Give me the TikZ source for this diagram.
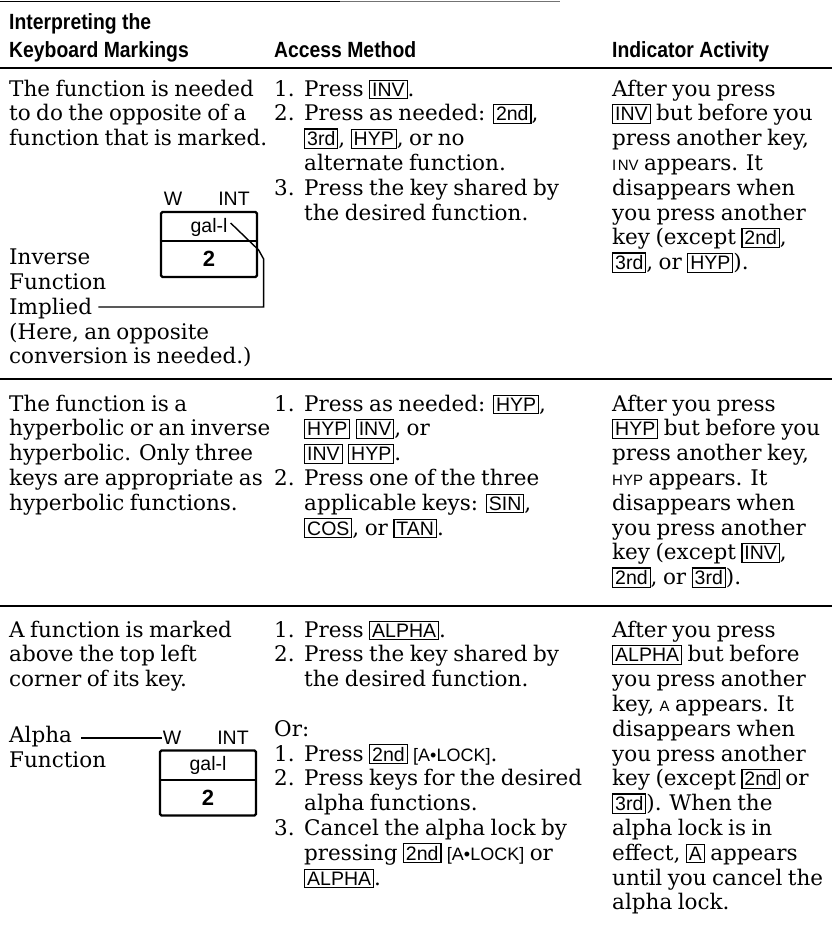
\documentclass[tikz,border=0pt]{standalone}
\usepackage{fontspec}
\setmainfont{DejaVu Serif}[WordSpace=0.8]
\setsansfont{Liberation Sans}
\newfontfamily\hdfont{Liberation Sans}[FakeStretch=0.88]
\newcommand{\bodyfont}{\fontsize{21.5}{24.8}\selectfont}
\newcommand{\kfont}{\sffamily\fontsize{19.5}{19.5}\selectfont}
\newcommand{\kb}[1]{\smash{{\setlength{\fboxsep}{1.9pt}\setlength{\fboxrule}{1.1pt}\fbox{\kfont\vphantom{I}#1}}}}
\newcommand{\ind}[1]{{\sffamily\fontsize{15}{15}\selectfont #1}}
\newcommand{\lck}{{\sffamily\fontsize{18}{18}\selectfont [A•LOCK]}}
\newcommand{\cell}[1]{\begin{tabular}[t]{@{}l@{}}#1\end{tabular}}
\newcommand{\nm}[1]{\makebox[30pt][l]{#1}}
\newcommand{\nn}{\hspace*{30pt}}
\begin{document}
\begin{tikzpicture}[x=1pt,y=-1pt,
  txt/.style={anchor=base west, inner sep=0pt, font=\bodyfont},
  hd/.style={anchor=base west, inner sep=0pt, font=\hdfont\bfseries\fontsize{22}{24}\selectfont},
  rulethick/.style={line width=2.6pt},
  rulethin/.style={line width=1.3pt},
  keycap/.style={draw, line width=2.2pt, rounded corners=1.5pt, minimum width=96pt, minimum height=65pt, inner sep=0pt},
  keylbl/.style={inner sep=0pt, font=\sffamily\fontsize{19.5}{19.5}\selectfont},
  keynum/.style={inner sep=0pt, font=\sffamily\bfseries\fontsize{22}{22}\selectfont},
  divider/.style={line width=1.1pt},
  conn/.style={line width=1.4pt},
]
\useasboundingbox (0,0) rectangle (832,938);

% rules
\draw[line width=1.8pt] (0,1.5) -- (340,1.5);
\draw[line width=1pt, black!55] (340,1.5) -- (560,1.5);
\draw[rulethick] (0,68) -- (832,68);
\draw[rulethin] (0,379) -- (832,379);
\draw[rulethin] (0,606) -- (832,606);

% headers
\node[hd] (h1) at (9,29) {Interpreting the};
\node[hd] (h2) at (9,57) {Keyboard Markings};
\node[hd] (h3) at (274,57) {Access Method};
\node[hd] (h4) at (612,57) {Indicator Activity};

% ---------- row 1 ----------
\node[txt] (r1a) at (9,96) {\cell{The function is needed\\to do the opposite of a\\function that is marked.}};
\node[keylbl] (w1) at (173,199) {W};
\node[keylbl] (int1) at (234,199) {INT};
\node[keycap] (key1) at (209,244.5) {};
\coordinate (d1) at (0,241);
\draw[divider] (key1.west |- d1) -- (key1.east |- d1);
\node[keylbl] (gal1) at (209,227) {gal-l};
\node[keynum] (two1) at (209,259) {2};
\node[txt] (inv) at (9,264) {Inverse};
\node[txt] (fun1) at (9,289) {Function};
\node[txt] (imp) at (9,314) {Implied};
\node[txt] (here) at (9,339) {\cell{(Here, an opposite\\conversion is needed.)}};
\draw[conn] ([shift={(3pt,4pt)}]gal1.east) -- ++(28,27) -- ++(5,9) |- ([xshift=6pt,yshift=7pt]imp.base east);

\node[txt] (r1b) at (274,96) {\cell{\nm{1.}Press \kb{INV}.\\\nm{2.}Press as needed: \kb{2nd},\\\nn\kb{3rd}, \kb{HYP}, or no\\\nn alternate function.\\\nm{3.}Press the key shared by\\\nn the desired function.}};

\node[txt] (r1c) at (612,96) {\cell{After you press\\\kb{INV} but before you\\press another key,\\\ind{I\kern1.5pt NV} appears. It\\disappears when\\you press another\\key (except \kb{2nd},\\\kb{3rd}, or \kb{HYP}).}};

% ---------- row 2 ----------
\node[txt] (r2a) at (9,411) {\cell{The function is a\\hyperbolic or an inverse\\hyperbolic. Only three\\keys are appropriate as\\hyperbolic functions.}};
\node[txt] (r2b) at (274,411) {\cell{\nm{1.}Press as needed: \kb{HYP},\\\nn\kb{HYP} \kb{INV}, or\\\nn\kb{INV} \kb{HYP}.\\\nm{2.}Press one of the three\\\nn applicable keys: \kb{SIN},\\\nn\kb{COS}, or \kb{TAN}.}};
\node[txt] (r2c) at (612,411) {\cell{After you press\\\kb{HYP} but before you\\press another key,\\\ind{HYP} appears. It\\disappears when\\you press another\\key (except \kb{INV},\\\kb{2nd}, or \kb{3rd}).}};

% ---------- row 3 ----------
\node[txt] (r3a) at (9,637) {\cell{A function is marked\\above the top left\\corner of its key.}};
\node[txt] (alpha) at (9,742) {Alpha};
\node[txt] (fun3) at (9,767) {Function};
\node[keylbl] (w3) at (172,738) {W};
\node[keylbl] (int3) at (233,738) {INT};
\node[keycap] (key3) at (208,783) {};
\coordinate (d3) at (0,780);
\draw[divider] (key3.west |- d3) -- (key3.east |- d3);
\node[keylbl] (gal3) at (208,765) {gal-l};
\node[keynum] (two3) at (208,798) {2};
\draw[conn] ([xshift=9pt]alpha.east |- w3.west) -- ([xshift=-1pt]w3.west);

\node[txt] (r3b) at (274,637) {\cell{\nm{1.}Press \kb{ALPHA}.\\\nm{2.}Press the key shared by\\\nn the desired function.\\ \\Or:\\\nm{1.}Press \kb{2nd} \lck.\\\nm{2.}Press keys for the desired\\\nn alpha functions.\\\nm{3.}Cancel the alpha lock by\\\nn pressing \kb{2nd} \lck{} or\\\nn\kb{ALPHA}.}};
\node[txt] (r3c) at (612,637) {\cell{After you press\\\kb{ALPHA} but before\\you press another\\key, \ind{A} appears. It\\disappears when\\you press another\\key (except \kb{2nd} or\\\kb{3rd}). When the\\alpha lock is in\\effect, \kb{A} appears\\until you cancel the\\alpha lock.}};
\end{tikzpicture}
\end{document}
